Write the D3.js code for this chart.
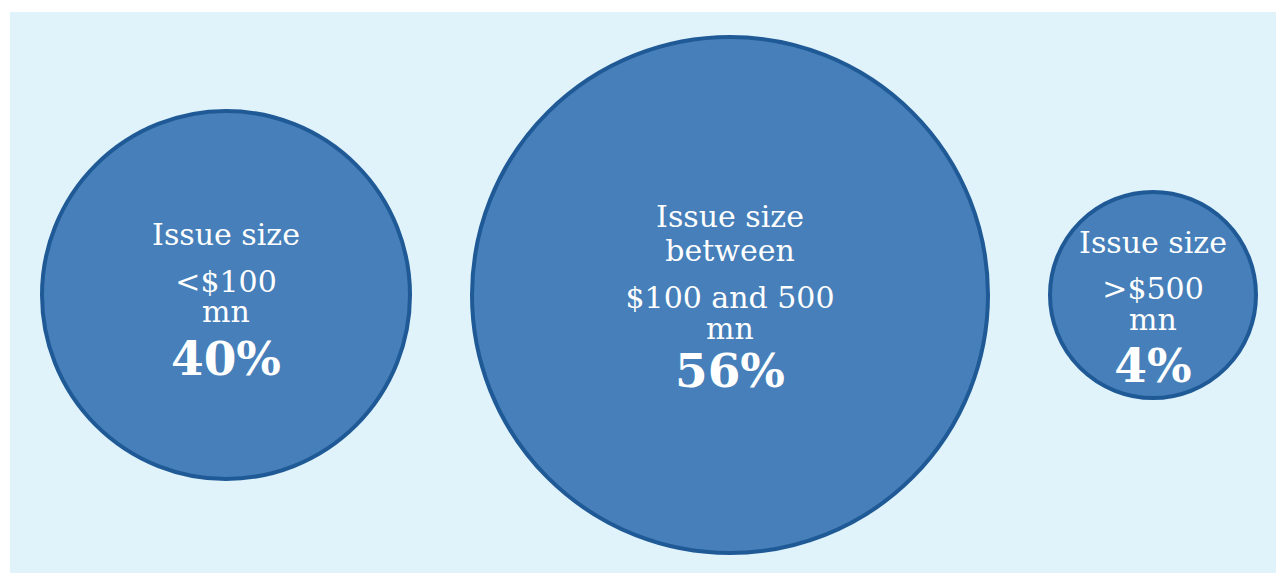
<!DOCTYPE html>
<html>
<head>
<meta charset="utf-8">
<script src="https://cdn.jsdelivr.net/npm/d3@7"></script>
<style>
  body { margin: 0; background: #fff; }
  text { font-family: "DejaVu Serif", serif; fill: #fff; }
</style>
</head>
<body>
<script>
// chart data
var categories = ["<$100 mn", "$100 and 500 mn", ">$500 mn"];
var shares = [40, 56, 4];
var labelLines = [
  ["Issue size", "<$100", "mn"],
  ["Issue size", "between", "$100 and 500", "mn"],
  ["Issue size", ">$500", "mn"]
];

var w = 1276, h = 573;
var gap = 62;

var svg = d3.select("body").append("svg").attr("width", w).attr("height", h);

svg.append("rect")
  .attr("x", 10).attr("y", 12)
  .attr("width", w - 10).attr("height", h - 12)
  .attr("fill", "#e0f2fa");

// radius scale (the source bubbles are not strictly area-proportional)
var rScale = d3.scaleLinear()
  .domain([4, 40, 56])
  .range([103, 184, 258]);

// lay the bubbles out left to right with an even gap between edges
var cx = [];
var edge = 42;
shares.forEach(function(v) {
  var r = rScale(v);
  cx.push(edge + r);
  edge += 2 * r + gap;
});

var cy = 295;

// baseline offsets for the text lines, relative to bubble centre
var lineOffsets = [
  [-50, -3, 27],
  [-68, -34, 13, 44],
  [-42, 4, 35]
];
var pctOffsets = [80, 92, 87];

var bubbles = svg.selectAll(".bubble")
  .data(shares)
  .enter().append("g")
  .attr("class", "bubble")
  .attr("transform", function(d, i) { return "translate(" + cx[i] + "," + cy + ")"; });

bubbles.append("circle")
  .attr("r", function(d) { return rScale(d); })
  .attr("fill", "#467fb9")
  .attr("stroke", "#1f5a97")
  .attr("stroke-width", 4);

bubbles.each(function(d, i) {
  var g = d3.select(this);
  // one multi-line label, lines set tight like the original
  var label = g.append("text")
    .attr("text-anchor", "middle")
    .style("font-size", "30px");
  labelLines[i].forEach(function(t, j) {
    label.append("tspan")
      .attr("x", 0)
      .attr("y", lineOffsets[i][j])
      .text(t);
  });
  g.append("text")
    .attr("y", pctOffsets[i])
    .attr("text-anchor", "middle")
    .style("font-size", "47px")
    .style("font-weight", "bold")
    .text(d + "%");
});
</script>
</body>
</html>
